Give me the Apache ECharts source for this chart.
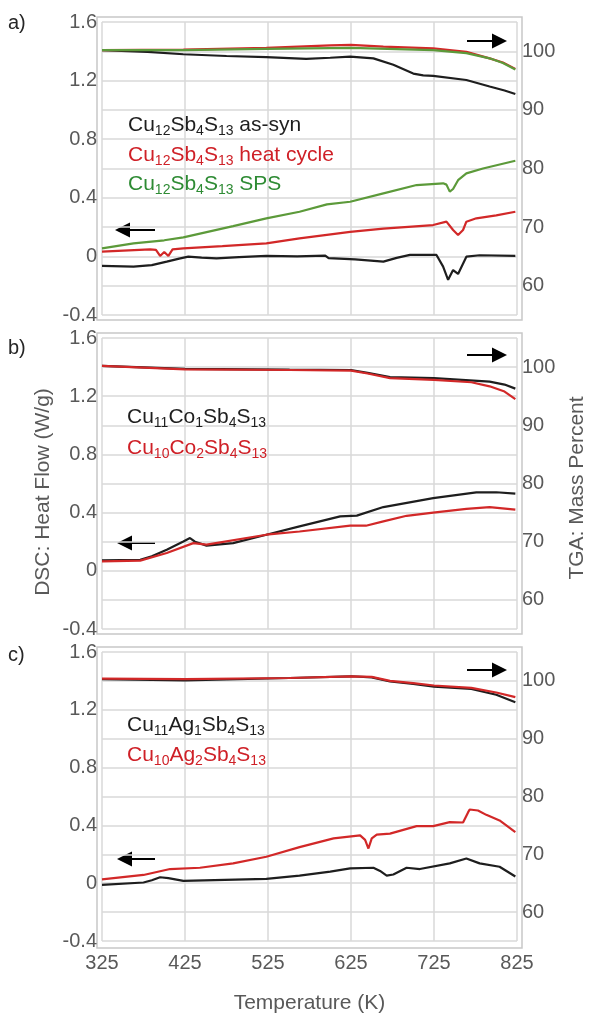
<!DOCTYPE html>
<html>
<head>
<meta charset="utf-8">
<title>DSC / TGA</title>
<script src="https://cdn.jsdelivr.net/npm/echarts@6/dist/echarts.min.js"></script>
<style>
html, body { margin: 0; padding: 0; background: #fff; }
#chart { width: 590px; height: 1015px; }
</style>
</head>
<body>
<div id="chart"></div>
<script>
// 坐标轴刻度
const tempTicks = [325, 425, 525, 625, 725, 825];
const dscTicks = [-0.4, 0, 0.4, 0.8, 1.2, 1.6];
const tgaTicks = [60, 70, 80, 90, 100];

// a) Cu12Sb4S13  [T(K), 值]
const tgaAsSyn = [[325,100.2],[380,99.9],[423,99.5],[475,99.2],[523,99.0],[571,98.7],[600,98.9],[624,99.1],[652,98.8],[676,97.7],[700,96.2],[712,95.9],[724,95.8],[764,95.1],[792,94.0],[810,93.3],[823,92.7]];
const tgaHeat = [[325,100.2],[423,100.3],[523,100.6],[600,101.0],[625,101.1],[664,100.8],[724,100.5],[764,99.9],[792,98.8],[808,98.1],[823,97.0]];
const tgaSps = [[325,100.2],[423,100.2],[523,100.4],[625,100.6],[724,100.2],[764,99.7],[792,98.8],[808,98.0],[823,96.9]];
const dscAsSyn = [[325,-0.065],[363,-0.07],[385,-0.06],[403,-0.036],[418,-0.015],[429,-0.002],[445,-0.008],[463,-0.013],[490,-0.005],[523,0.003],[560,0.0],[594,0.005],[598,-0.012],[630,-0.02],[664,-0.036],[680,-0.01],[696,0.01],[728,0.01],[736,-0.07],[742,-0.16],[748,-0.093],[754,-0.12],[764,-0.002],[780,0.008],[823,0.003]];
const dscHeat = [[325,0.032],[383,0.048],[390,0.045],[395,0.003],[400,0.03],[405,0.003],[410,0.048],[423,0.055],[470,0.07],[523,0.089],[563,0.123],[624,0.168],[664,0.19],[724,0.214],[740,0.237],[748,0.18],[754,0.146],[760,0.18],[764,0.237],[776,0.26],[800,0.28],[823,0.305]];
const dscSps = [[325,0.055],[363,0.089],[400,0.11],[423,0.13],[483,0.207],[523,0.26],[563,0.305],[596,0.355],[624,0.373],[664,0.43],[704,0.487],[736,0.499],[740,0.49],[744,0.442],[748,0.46],[754,0.52],[764,0.567],[784,0.60],[823,0.653]];

// b) Co 掺杂
const tgaCo1 = [[325,100.2],[425,99.7],[551,99.55],[625,99.5],[645,99.0],[672,98.3],[725,98.1],[792,97.5],[810,97.0],[823,96.3]];
const tgaCo2 = [[325,100.2],[425,99.6],[551,99.5],[625,99.4],[645,98.9],[672,98.1],[725,97.8],[770,97.4],[792,96.7],[810,95.8],[823,94.5]];
const dscCo1 = [[325,0.072],[371,0.076],[385,0.1],[403,0.145],[423,0.202],[431,0.225],[437,0.20],[451,0.173],[483,0.19],[523,0.248],[563,0.305],[612,0.374],[632,0.379],[664,0.438],[724,0.50],[776,0.539],[800,0.54],[823,0.53]];
const dscCo2 = [[325,0.065],[371,0.07],[403,0.122],[435,0.19],[451,0.18],[523,0.248],[563,0.27],[624,0.31],[643,0.31],[664,0.34],[692,0.378],[724,0.40],[764,0.425],[792,0.438],[823,0.42]];

// c) Ag 掺杂
const tgaAg1 = [[325,100.3],[425,100.1],[551,100.5],[625,100.8],[650,100.6],[672,99.9],[700,99.5],[725,99.0],[770,98.6],[800,97.6],[823,96.3]];
const tgaAg2 = [[325,100.4],[425,100.3],[551,100.5],[625,100.8],[650,100.7],[672,100.0],[700,99.6],[725,99.2],[770,98.8],[800,98.0],[823,97.2]];
const dscAg1 = [[325,-0.012],[375,0.005],[385,0.02],[395,0.041],[405,0.035],[423,0.016],[523,0.03],[563,0.053],[600,0.08],[624,0.103],[652,0.107],[660,0.085],[668,0.053],[676,0.06],[692,0.107],[708,0.098],[744,0.137],[764,0.171],[780,0.137],[804,0.114],[823,0.046]];
const dscAg2 = [[325,0.027],[375,0.057],[407,0.098],[443,0.107],[483,0.137],[523,0.183],[563,0.25],[604,0.31],[636,0.331],[642,0.30],[646,0.24],[650,0.31],[656,0.336],[672,0.343],[704,0.395],[724,0.395],[744,0.423],[760,0.42],[766,0.49],[768,0.51],[778,0.503],[788,0.473],[804,0.434],[823,0.354]];

const FONT = '"Liberation Sans", Arial, sans-serif';
const GRAY = '#595959';
const GRID_C = '#d9d9d9';
const BLACK = '#1e1e1e', RED = '#d22828', GREEN = '#5c9a3a';

const grids = [
    {left: 102, top: 22, width: 415, height: 293},
    {left: 102, top: 338, width: 415, height: 291},
    {left: 102, top: 652, width: 415, height: 291}
];

const xAxes = grids.map((g, i) => ({
    type: 'value', gridIndex: i,
    min: tempTicks[0], max: tempTicks[tempTicks.length - 1], interval: 100,
    axisLine: {show: false}, axisTick: {show: false},
    splitLine: {show: true, lineStyle: {color: GRID_C, width: 1.5}},
    axisLabel: {show: i === 2, fontSize: 20, color: GRAY, margin: 12, fontFamily: FONT},
    name: i === 2 ? 'Temperature (K)' : '',
    nameLocation: 'middle', nameGap: 52,
    nameTextStyle: {fontSize: 21, color: GRAY, fontFamily: FONT}
}));

const yAxes = [];
grids.forEach((g, i) => {
    yAxes.push({
        type: 'value', gridIndex: i, position: 'left',
        min: dscTicks[0], max: dscTicks[dscTicks.length - 1], interval: 0.2,
        axisLine: {show: false}, axisTick: {show: false},
        splitLine: {show: true, lineStyle: {color: GRID_C, width: 1.5}},
        axisLabel: {
            fontSize: 20, color: GRAY, margin: 5, fontFamily: FONT, padding: [4, 0, 0, 0],
            formatter: v => {
                const r = Math.round(v * 10) / 10;
                if (!dscTicks.includes(r)) return '';
                return r === 0 ? '0' : r.toFixed(1);
            }
        }
    });
    yAxes.push({
        type: 'value', gridIndex: i, position: 'right',
        min: 55, max: 105, interval: 5,
        axisLine: {show: false}, axisTick: {show: false}, splitLine: {show: false},
        axisLabel: {
            fontSize: 20, color: GRAY, margin: 5, fontFamily: FONT,
            formatter: v => tgaTicks.includes(Math.round(v)) ? String(Math.round(v)) : ''
        }
    });
});

function line(data, color, panel, right) {
    return {
        type: 'line', data: data,
        xAxisIndex: panel, yAxisIndex: panel * 2 + (right ? 1 : 0),
        showSymbol: false, symbol: 'none', animation: false,
        lineStyle: {color: color, width: 2.2}, itemStyle: {color: color}
    };
}

const series = [
    line(tgaAsSyn, BLACK, 0, true), line(tgaHeat, RED, 0, true), line(tgaSps, GREEN, 0, true),
    line(dscAsSyn, BLACK, 0, false), line(dscHeat, RED, 0, false), line(dscSps, GREEN, 0, false),
    line(tgaCo1, BLACK, 1, true), line(tgaCo2, RED, 1, true),
    line(dscCo1, BLACK, 1, false), line(dscCo2, RED, 1, false),
    line(tgaAg1, BLACK, 2, true), line(tgaAg2, RED, 2, true),
    line(dscAg1, BLACK, 2, false), line(dscAg2, RED, 2, false)
];

// 化学式下标: "Cu_12" -> Cu{12}
function formula(s) {
    return '{m|' + s.replace(/_(\d+)/g, '}{s|$1}{m|') + '}';
}
function chemText(x, y, s, color) {
    return {
        type: 'text', x: x, y: y, z: 10,
        style: {
            text: formula(s), fill: color, align: 'left', verticalAlign: 'middle',
            rich: {
                m: {fontSize: 21, fontFamily: FONT, lineHeight: 26, fill: color, verticalAlign: 'middle'},
                s: {fontSize: 14, fontFamily: FONT, lineHeight: 14, fill: color, verticalAlign: 'bottom'}
            }
        }
    };
}
function frame(g) {
    return {
        type: 'rect', z: 0, silent: true,
        shape: {x: g.left - 5, y: g.top - 5, width: g.width + 10, height: g.height + 10},
        style: {fill: 'none', stroke: '#c8c8c8', lineWidth: 1.5}
    };
}
function arrow(x1, x2, y) {
    // x2 为箭头尖端
    const dir = x2 > x1 ? 1 : -1;
    const base = x2 - dir * 15;
    return {
        type: 'group', children: [
            {type: 'line', shape: {x1: x1, y1: y, x2: base, y2: y}, style: {stroke: '#000', lineWidth: 2}},
            {type: 'polygon', shape: {points: [[x2, y], [base, y - 7.5], [base, y + 7.5]]}, style: {fill: '#000'}}
        ]
    };
}
function plain(x, y, text, size, color, rot) {
    return {
        type: 'text', x: x, y: y, rotation: rot || 0,
        style: {text: text, fontSize: size, fontFamily: FONT, fill: color, align: rot ? 'center' : 'left', verticalAlign: 'middle'}
    };
}

const graphics = grids.map(frame).concat([
    plain(8, 23, 'a)', 20, '#262626'),
    plain(8, 348, 'b)', 20, '#262626'),
    plain(8, 655, 'c)', 20, '#262626'),
    plain(43, 492, 'DSC: Heat Flow (W/g)', 21, GRAY, Math.PI / 2),
    plain(577, 488, 'TGA: Mass Percent', 21, GRAY, Math.PI / 2),
    chemText(128, 125, 'Cu_12Sb_4S_13 as-syn', BLACK),
    chemText(128, 155, 'Cu_12Sb_4S_13 heat cycle', '#cf2027'),
    chemText(128, 184, 'Cu_12Sb_4S_13 SPS', '#2e8b34'),
    chemText(127, 417, 'Cu_11Co_1Sb_4S_13', BLACK),
    chemText(127, 448, 'Cu_10Co_2Sb_4S_13', '#cf2027'),
    chemText(127, 725, 'Cu_11Ag_1Sb_4S_13', BLACK),
    chemText(127, 755, 'Cu_10Ag_2Sb_4S_13', '#cf2027'),
    arrow(155, 115, 230), arrow(467, 507, 41),
    arrow(155, 117, 543), arrow(467, 507, 355),
    arrow(155, 117, 859), arrow(467, 507, 670)
]);

const chart = echarts.init(document.getElementById('chart'));
chart.setOption({
    backgroundColor: '#fff',
    animation: false,
    grid: grids,
    xAxis: xAxes,
    yAxis: yAxes,
    series: series,
    graphic: graphics
});
</script>
</body>
</html>
